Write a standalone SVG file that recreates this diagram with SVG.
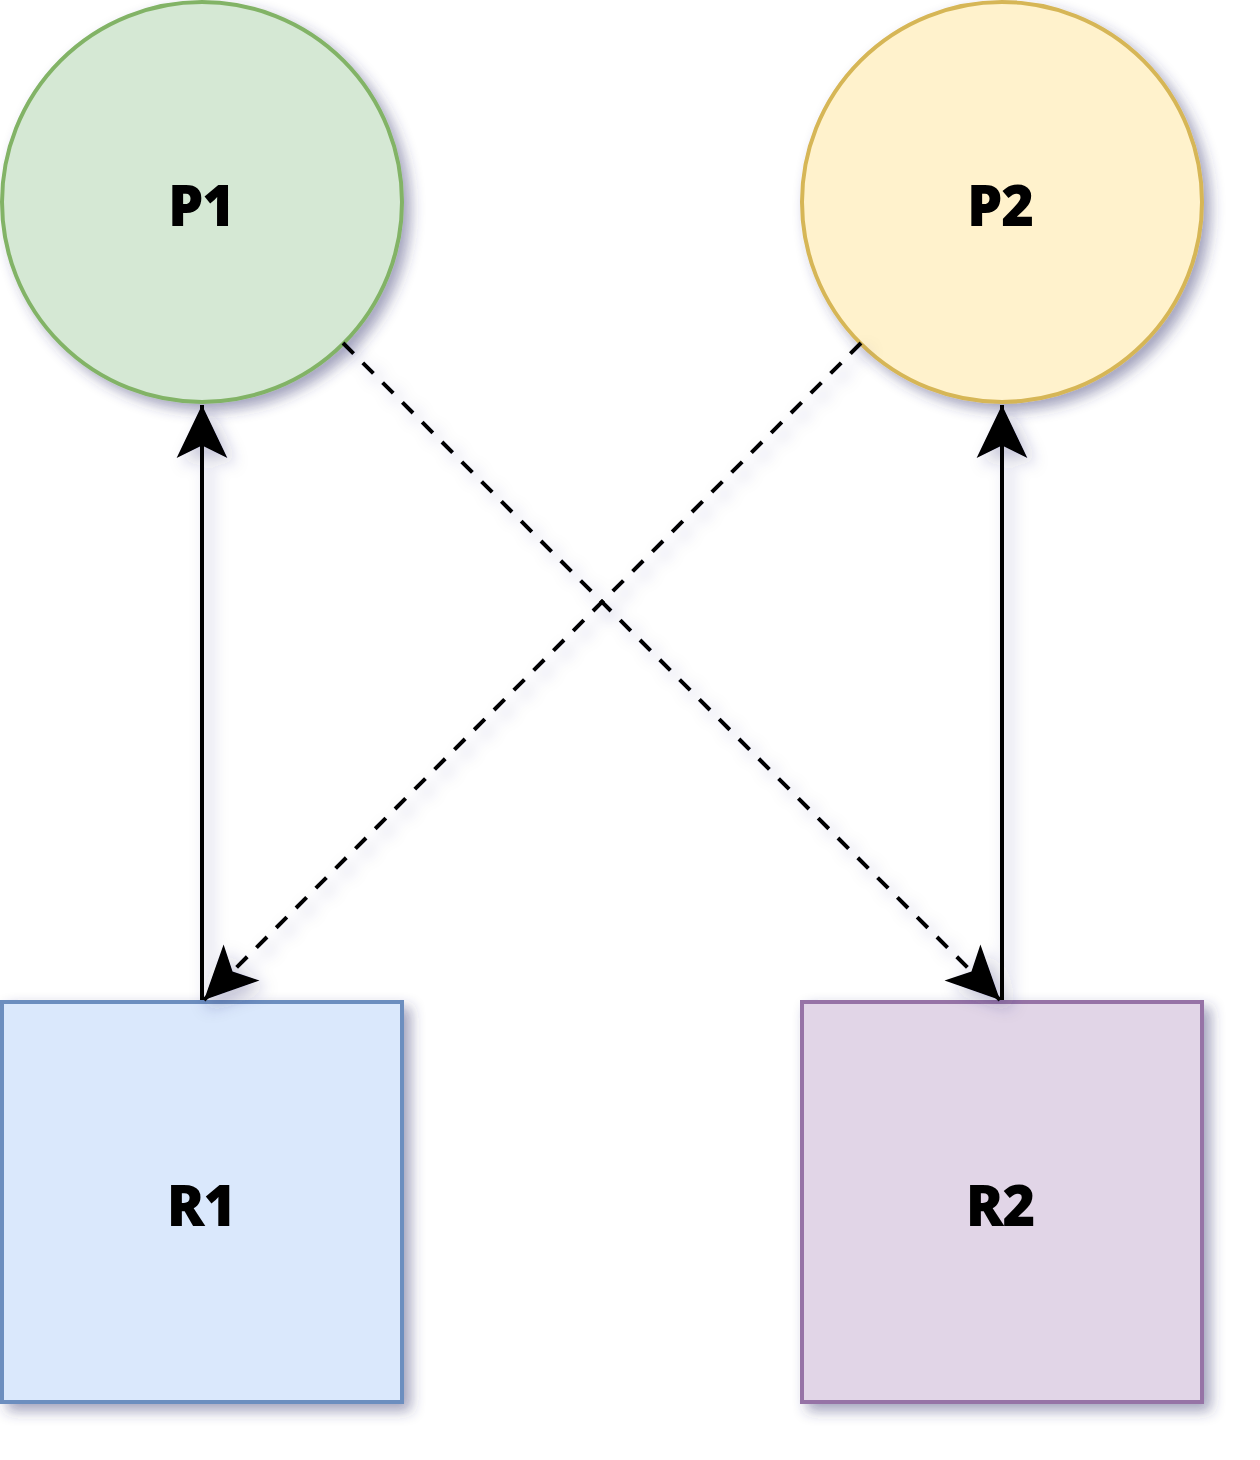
<svg xmlns="http://www.w3.org/2000/svg" width="1260" height="1460" viewBox="0 0 1260 1460">
<style>
.lbl{font-family:"Open Sans","Noto Sans","DejaVu Sans",sans-serif;font-weight:800;font-size:56px;fill:#000;text-anchor:middle;dominant-baseline:central;letter-spacing:-1px}
.edge{fill:none;stroke:#000;stroke-width:4}
.dash{stroke-dasharray:15 13}
.shape{stroke-width:4}
</style>
<defs>
<filter id="sh" x="-20%" y="-20%" width="140%" height="140%">
<feDropShadow dx="7" dy="7" stdDeviation="7" flood-color="#30306e" flood-opacity="0.45"/>
</filter>
<filter id="she" x="-20%" y="-20%" width="140%" height="140%">
<feDropShadow dx="7" dy="7" stdDeviation="8" flood-color="#30306e" flood-opacity="0.3"/>
</filter>
<marker id="arr" markerUnits="userSpaceOnUse" markerWidth="60" markerHeight="60" viewBox="-50 -25 52 50" refX="0" refY="0" orient="auto">
<path d="M0,0 L-46,-22 L-35,0 L-46,22 Z" fill="#000"/>
</marker>
</defs>
<rect width="1260" height="1460" fill="#fff"/>
<g id="P1" filter="url(#sh)">
<circle class="shape" cx="202" cy="202" r="200" fill="#d5e8d4" stroke="#82b366"/>
<text class="lbl" x="201" y="204">P1</text>
</g>
<g id="P2" filter="url(#sh)">
<circle class="shape" cx="1002" cy="202" r="200" fill="#fff2cc" stroke="#d6b656"/>
<text class="lbl" x="1000" y="204">P2</text>
</g>
<g id="R1" filter="url(#sh)">
<rect class="shape" x="2" y="1002" width="400" height="400" fill="#dae8fc" stroke="#6c8ebf"/>
<text class="lbl" x="201" y="1204">R1</text>
</g>
<g id="R2" filter="url(#sh)">
<rect class="shape" x="802" y="1002" width="400" height="400" fill="#e1d5e7" stroke="#9673a6"/>
<text class="lbl" x="1000" y="1204">R2</text>
</g>
<g id="connectors" filter="url(#she)">
<line class="edge" x1="202" y1="1000" x2="202" y2="405" marker-end="url(#arr)"/>
<line class="edge" x1="1002" y1="1000" x2="1002" y2="405" marker-end="url(#arr)"/>
<line class="edge dash" x1="343" y1="343" x2="1000" y2="1000" marker-end="url(#arr)"/>
<line class="edge dash" x1="861" y1="343" x2="204" y2="1000" marker-end="url(#arr)"/>
</g>
</svg>
